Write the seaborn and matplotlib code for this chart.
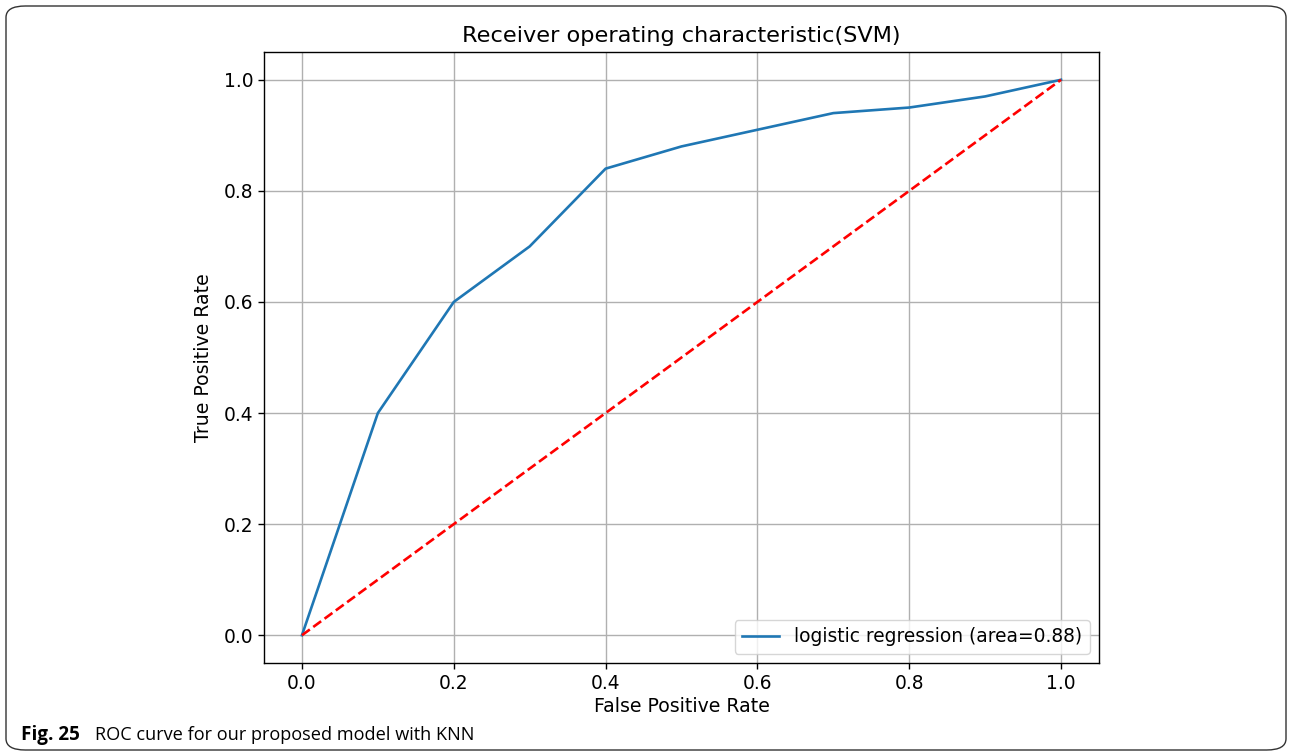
import numpy as np
import matplotlib
matplotlib.use("Agg")
import matplotlib.pyplot as plt
from matplotlib.patches import FancyBboxPatch
import seaborn as sns

# ROC points
fpr = [0.0, 0.1, 0.2, 0.3, 0.4, 0.5, 0.6, 0.7, 0.8, 0.9, 1.0]
tpr = [0.0, 0.40, 0.60, 0.70, 0.84, 0.88, 0.91, 0.94, 0.95, 0.97, 1.0]
diag = [0.0, 1.0]
curve_label = "logistic regression (area=0.88)"
ticks = [0.0, 0.2, 0.4, 0.6, 0.8, 1.0]

plt.rcParams.update({
    "font.family": ["DejaVu Sans"],
    "xtick.labelsize": 13.4,
    "ytick.labelsize": 13.4,
    "axes.labelsize": 13.6,
    "axes.titlesize": 16.1,
    "legend.fontsize": 13.4,
    "axes.linewidth": 1.0,
    "xtick.major.width": 1.0,
    "ytick.major.width": 1.0,
    "xtick.major.size": 4.2,
    "ytick.major.size": 4.2,
})

fig = plt.figure(figsize=(12.9, 7.54), dpi=100)
ax = fig.add_axes([264 / 1290, 1 - 663 / 754, 835 / 1290, 611 / 754])

sns.lineplot(x=fpr, y=tpr, ax=ax, color="#1f77b4", linewidth=1.9,
             label=curve_label)
sns.lineplot(x=diag, y=diag, ax=ax, color="red", linewidth=1.9,
             linestyle="--")

ax.set_xlim(-0.05, 1.05)
ax.set_ylim(-0.05, 1.05)
ax.set_xticks(ticks)
ax.set_yticks(ticks)
ax.grid(True, color="#b0b0b0", linewidth=1.0)
ax.set_xlabel("False Positive Rate", labelpad=3)
ax.set_ylabel("True Positive Rate", labelpad=8)
ax.set_title("Receiver operating characteristic(SVM)", pad=7)
ax.legend(loc="lower right")

# outer frame of the figure panel
box = FancyBboxPatch((6 / 1290, 4 / 754), 1280 / 1290, 744 / 754,
                     boxstyle="round,pad=0,rounding_size=0.015",
                     transform=fig.transFigure, fill=False,
                     edgecolor="#333333", linewidth=1.0)
fig.patches.append(box)

fig.text(21 / 1290, 1 - 735 / 754, "Fig. 25", fontsize=13.6, fontweight="bold",
         family=["Open Sans", "DejaVu Sans"], va="center", ha="left")
fig.text(95 / 1290, 1 - 735 / 754, "ROC curve for our proposed model with KNN",
         fontsize=13.1, family=["Open Sans", "DejaVu Sans"],
         va="center", ha="left")

fig.savefig("out.png", dpi=100)
